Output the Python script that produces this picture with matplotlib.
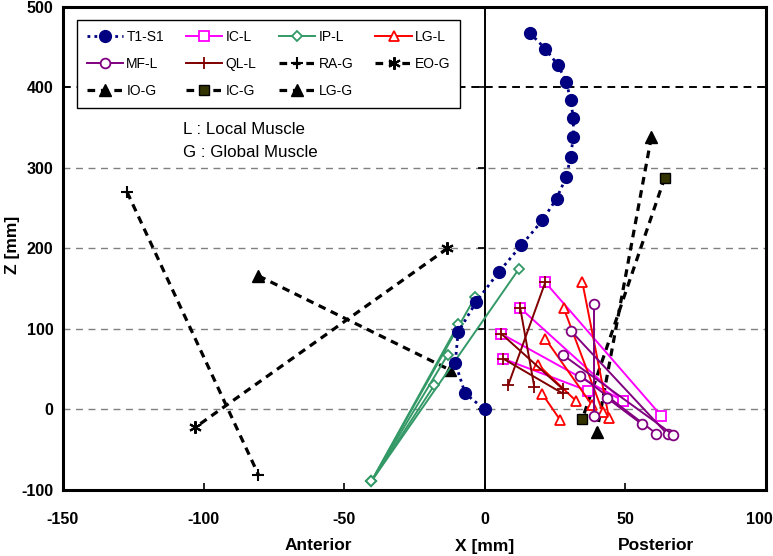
import matplotlib
matplotlib.use("Agg")
import matplotlib.pyplot as plt
import numpy as np
from matplotlib.transforms import offset_copy

# ---------------- data ----------------
t1s1_x = [16, 21.5, 26, 29, 30.5, 31.5, 31.5, 30.5, 29, 25.5, 20.5, 13, 5, -3, -9.5, -10.5, -7, 0]
t1s1_z = [468, 448, 428, 407, 384, 362, 339, 314, 289, 262, 235, 204, 171, 134, 96, 58, 20, 0]

# local muscles: origin (top) and insertion (bottom) points
icl_top_x = [21.5, 12.6, 5.9, 6.6]
icl_top_z = [158, 126, 94, 63]
icl_bot_x = [62.8, 49, 49, 36.8]
icl_bot_z = [-8, 11, 11, 23]

ipl_top_x = [12, -3.4, -9.4, -13.2, -18]
ipl_top_z = [174, 140, 106, 68, 30]
ipl_bot_x = [-40.3, -40.3, -40.3, -40.3, -40.3]
ipl_bot_z = [-89, -89, -89, -89, -89]

lgl_top_x = [34.7, 28, 21.5, 19, 20.5]
lgl_top_z = [158, 126.5, 88, 55.5, 19]
lgl_bot_x = [44.2, 41.9, 38.2, 32.5, 26.9]
lgl_bot_z = [-11, -2.5, 5, 10.5, -13.5]

mfl_top_x = [38.8, 30.8, 27.7, 34, 43.6]
mfl_top_z = [131, 97, 68, 42, 14]
mfl_bot_x = [38.8, 65, 67, 61, 56]
mfl_bot_z = [-8.5, -31, -31.5, -30, -18.5]

qll_top_x = [21.5, 12.6, 5.9, 6.6]
qll_top_z = [158, 126, 94, 63]
qll_bot_x = [8.3, 17.6, 27.7, 27.7]
qll_bot_z = [30, 28, 25.5, 20]

# global muscles
rag_x = [-127.2, -80.5]
rag_z = [270, -81]
eog_x = [-13.3, -102.9]
eog_z = [200, -22]
iog_x = [-80.5, -12.3]
iog_z = [166, 49]
icg_x = [64, 34.7]
icg_z = [288, -11.6]
lgg_x = [59.2, 39.8]
lgg_z = [338, -28]

x_ticks = [-150, -100, -50, 0, 50, 100]
z_ticks = [-100, 0, 100, 200, 300, 400, 500]

# ---------------- style ----------------
plt.rcParams['font.family'] = ['Liberation Sans', 'DejaVu Sans']

fig = plt.figure(figsize=(7.73, 5.56), dpi=100)
ax = fig.add_axes([63/773, 1-490/556, 703/773, 483/556])
ax.set_xlim(-150, 100)
ax.set_ylim(-100, 500)

# grid lines
for z in [0, 100, 200, 300]:
    ax.axhline(z, color='#808080', lw=1.0, ls=(0, (5, 4)), zorder=0)
ax.axhline(400, color='black', lw=1.4, ls=(0, (4, 3)), zorder=0)
ax.axvline(0, color='black', lw=1.4, zorder=1)
ax.plot(np.zeros(len(z_ticks)), z_ticks, ls='none', marker=0, ms=5, mew=1.2,
        color='black', zorder=1, clip_on=False)

dash = (0, (2.4, 1.8))
gl = 2.3

# global muscles
ax.plot(rag_x, rag_z, color='black', lw=gl, ls=dash, marker='+', ms=9, mew=1.5, label='RA-G', zorder=3)
ax.plot(eog_x, eog_z, color='black', lw=gl, ls=dash, marker=(6, 2, 0), ms=9, mew=1.5, label='EO-G', zorder=3)
ax.plot(iog_x, iog_z, color='black', lw=gl, ls=dash, marker='^', ms=8, mfc='black', mec='black', label='IO-G', zorder=3)
ax.plot(icg_x, icg_z, color='black', lw=gl, ls=dash, marker='s', ms=7.5, mfc='#333300', mec='black', mew=1, label='IC-G', zorder=3)
ax.plot(lgg_x, lgg_z, color='black', lw=gl, ls=dash, marker='^', ms=8, mfc='black', mec='black', label='LG-G', zorder=3)

# spine
ax.plot(t1s1_x, t1s1_z, color='#000080', lw=2, ls=(0, (1, 1.5)), marker='o', ms=8.5,
        mfc='#000080', mec='#000080', label='T1-S1', zorder=4)

def seg_series(xt, zt, xb, zb, color, marker, ms, label, mfc='white', mew=1.3, z=5):
    for i in range(len(xt)):
        ax.plot([xt[i], xb[i]], [zt[i], zb[i]], color=color, lw=1.4, marker=marker, ms=ms,
                mfc=mfc, mec=color, mew=mew, zorder=z, label=label if i == 0 else None)

seg_series(ipl_top_x, ipl_top_z, ipl_bot_x, ipl_bot_z, '#339966', 'D', 5, 'IP-L', z=3.5)
seg_series(icl_top_x, icl_top_z, icl_bot_x, icl_bot_z, '#FF00FF', 's', 7, 'IC-L')
seg_series(lgl_top_x, lgl_top_z, lgl_bot_x, lgl_bot_z, '#FF0000', '^', 7.5, 'LG-L')
seg_series(mfl_top_x, mfl_top_z, mfl_bot_x, mfl_bot_z, '#800080', 'o', 7, 'MF-L')
seg_series(qll_top_x, qll_top_z, qll_bot_x, qll_bot_z, '#800000', '+', 9, 'QL-L', mfc='none', z=6)

# legend
h, l = ax.get_legend_handles_labels()
d = dict(zip(l, h))
order = ['T1-S1', 'MF-L', 'IO-G', 'IC-L', 'QL-L', 'IC-G', 'IP-L', 'RA-G', 'LG-G', 'LG-L', 'EO-G']
leg = ax.legend([d[k] for k in order], order, ncol=4, loc='upper left',
                bbox_to_anchor=(0.02, 0.973), borderaxespad=0, fontsize=10,
                frameon=True, fancybox=False, edgecolor='black', framealpha=1,
                handlelength=2.6, handletextpad=0.25, columnspacing=1.6,
                labelspacing=0.95, borderpad=0.7)
leg.get_frame().set_linewidth(1.0)

ax.text(-107.5, 348, 'L : Local Muscle', fontsize=12.2, va='center', ha='left')
ax.text(-107.5, 319, 'G : Global Muscle', fontsize=12.2, va='center', ha='left')

# axes
for s in ax.spines.values():
    s.set_linewidth(2.2)
    s.set_color('black')
ax.set_xticks(x_ticks)
ax.set_yticks(z_ticks)
ax.set_xticklabels([str(v) for v in x_ticks], fontweight='bold', fontsize=11.5)
ax.set_yticklabels([str(v) for v in z_ticks], fontweight='bold', fontsize=11.5)
ax.tick_params(axis='x', direction='in', length=5, width=1.2, pad=16)
ax.tick_params(axis='y', length=0, pad=7)
# keep the last x label inside the figure
last = ax.get_xticklabels()[-1]
last.set_transform(offset_copy(last.get_transform(), fig=fig, x=-7, units='dots'))

fig.text(318/773, 1-546/556, 'Anterior', ha='center', va='center', fontsize=12.5, fontweight='bold')
fig.text(485/773, 1-546/556, 'X [mm]', ha='center', va='center', fontsize=12.5, fontweight='bold')
fig.text(656/773, 1-546/556, 'Posterior', ha='center', va='center', fontsize=12.5, fontweight='bold')
fig.text(12/773, 1-245/556, 'Z [mm]', ha='center', va='center', fontsize=12.5, fontweight='bold', rotation=90)

fig.savefig('out.png', dpi=100)
